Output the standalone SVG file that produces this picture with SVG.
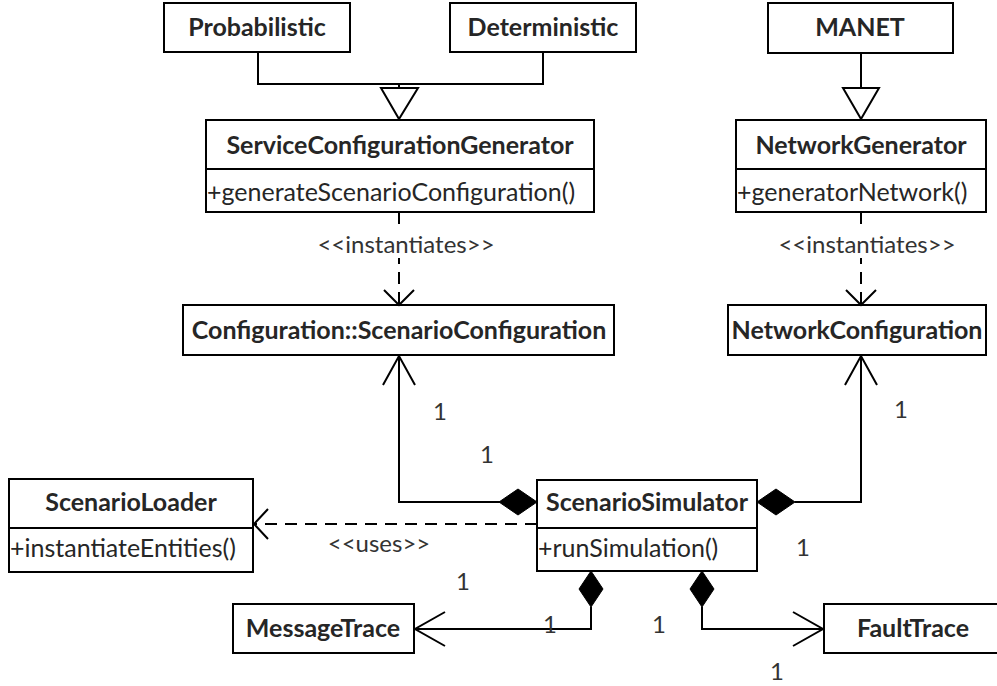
<svg xmlns="http://www.w3.org/2000/svg" width="997" height="686" viewBox="0 0 997 686">
  <style>
    .box { fill: #ffffff; stroke: #000000; stroke-width: 2; }
    .ln { fill: none; stroke: #000000; stroke-width: 2; }
    .dash { fill: none; stroke: #000000; stroke-width: 2; stroke-dasharray: 12 8; }
    .title { font-family: Lato, "Liberation Sans", sans-serif; font-weight: bold; font-size: 25px; fill: #262626; text-anchor: middle; }
    .op { font-family: Lato, "Liberation Sans", sans-serif; font-size: 25px; fill: #262626; }
    .lbl { font-family: Lato, "Liberation Sans", sans-serif; font-size: 24px; fill: #333333; text-anchor: middle; }
    .dia { fill: #000000; stroke: #000000; stroke-width: 1; }
    .tri { fill: #ffffff; stroke: #000000; stroke-width: 2; }
  </style>

  <!-- class boxes -->
  <g id="probabilistic">
    <rect class="box" x="164" y="3" width="186" height="49"/>
    <text class="title" x="257" y="36">Probabilistic</text>
  </g>
  <g id="deterministic">
    <rect class="box" x="450" y="3" width="186" height="49"/>
    <text class="title" x="543" y="36">Deterministic</text>
  </g>
  <g id="manet">
    <rect class="box" x="768" y="3" width="185" height="50"/>
    <text class="title" x="860" y="36">MANET</text>
  </g>
  <g id="service-configuration-generator">
    <rect class="box" x="206" y="120" width="388" height="92"/>
    <line class="ln" x1="206" y1="169" x2="594" y2="169"/>
    <text class="title" x="400" y="154">ServiceConfigurationGenerator</text>
    <text class="op" x="207" y="201">+generateScenarioConfiguration()</text>
  </g>
  <g id="network-generator">
    <rect class="box" x="736" y="120" width="250" height="92"/>
    <line class="ln" x1="736" y1="169" x2="986" y2="169"/>
    <text class="title" x="861" y="154">NetworkGenerator</text>
    <text class="op" x="737" y="201">+generatorNetwork()</text>
  </g>
  <g id="scenario-configuration">
    <rect class="box" x="183" y="305" width="431" height="50"/>
    <text class="title" x="399" y="339">Configuration::ScenarioConfiguration</text>
  </g>
  <g id="network-configuration">
    <rect class="box" x="728" y="305" width="258" height="50"/>
    <text class="title" x="857" y="339">NetworkConfiguration</text>
  </g>
  <g id="scenario-loader">
    <rect class="box" x="9" y="479" width="244" height="93"/>
    <line class="ln" x1="9" y1="528" x2="253" y2="528"/>
    <text class="title" x="131" y="511">ScenarioLoader</text>
    <text class="op" x="10" y="557">+instantiateEntities()</text>
  </g>
  <g id="scenario-simulator">
    <rect class="box" x="537" y="480" width="220" height="91"/>
    <line class="ln" x1="537" y1="528" x2="757" y2="528"/>
    <text class="title" x="647" y="511">ScenarioSimulator</text>
    <text class="op" x="538" y="557">+runSimulation()</text>
  </g>
  <g id="message-trace">
    <rect class="box" x="233" y="604" width="181" height="49"/>
    <text class="title" x="323" y="637">MessageTrace</text>
  </g>
  <g id="fault-trace">
    <rect class="box" x="824" y="604" width="190" height="49"/>
    <text class="title" x="913" y="637">FaultTrace</text>
  </g>

  <!-- connectors -->
  <g id="connectors">
    <!-- generalizations -->
    <polyline class="ln" points="258,52 258,84 543,84 543,52"/>
    <line class="ln" x1="399" y1="84" x2="399" y2="88"/>
    <polygon class="tri" points="381,88 418,88 399,119"/>
    <line class="ln" x1="861" y1="53" x2="861" y2="88"/>
    <polygon class="tri" points="843,88 879,88 861,119"/>

    <!-- instantiates dependencies -->
    <line class="dash" x1="399" y1="212" x2="399" y2="304"/>
    <polyline class="ln" points="384,290 399,305 414,290"/>
    <rect x="310" y="232" width="194" height="26" fill="#ffffff"/>
    <text class="lbl" x="406" y="253">&lt;&lt;instantiates&gt;&gt;</text>

    <line class="dash" x1="861" y1="212" x2="861" y2="304"/>
    <polyline class="ln" points="846,290 861,305 876,290"/>
    <rect x="771" y="232" width="194" height="26" fill="#ffffff"/>
    <text class="lbl" x="867" y="253">&lt;&lt;instantiates&gt;&gt;</text>

    <!-- compositions to configurations -->
    <polyline class="ln" points="399,356 399,502 500,502"/>
    <polyline class="ln" points="383,385 399,356 415,385"/>
    <polygon class="dia" points="499,502 518,489 537,502 518,515"/>
    <text class="lbl" x="440" y="420">1</text>
    <text class="lbl" x="487" y="463">1</text>

    <polyline class="ln" points="795,502 861,502 861,356"/>
    <polyline class="ln" points="845,385 861,356 877,385"/>
    <polygon class="dia" points="757,502 776,489 795,502 776,515"/>
    <text class="lbl" x="901" y="418">1</text>
    <text class="lbl" x="803" y="556">1</text>

    <!-- uses dependency -->
    <line class="dash" x1="537" y1="524" x2="255" y2="524"/>
    <polyline class="ln" points="268,509 254,524 268,539"/>
    <text class="lbl" x="379" y="552">&lt;&lt;uses&gt;&gt;</text>

    <!-- compositions to traces -->
    <polyline class="ln" points="591,607 591,629 415,629"/>
    <polyline class="ln" points="445,612 415,629 445,646"/>
    <polygon class="dia" points="591,571 603,589 591,607 579,589"/>
    <text class="lbl" x="463" y="590">1</text>
    <text class="lbl" x="550" y="633">1</text>

    <polyline class="ln" points="702,607 702,629 823,629"/>
    <polyline class="ln" points="793,612 823,629 793,646"/>
    <polygon class="dia" points="702,571 714,589 702,607 690,589"/>
    <text class="lbl" x="659" y="633">1</text>
    <text class="lbl" x="777" y="680">1</text>
  </g>
</svg>
